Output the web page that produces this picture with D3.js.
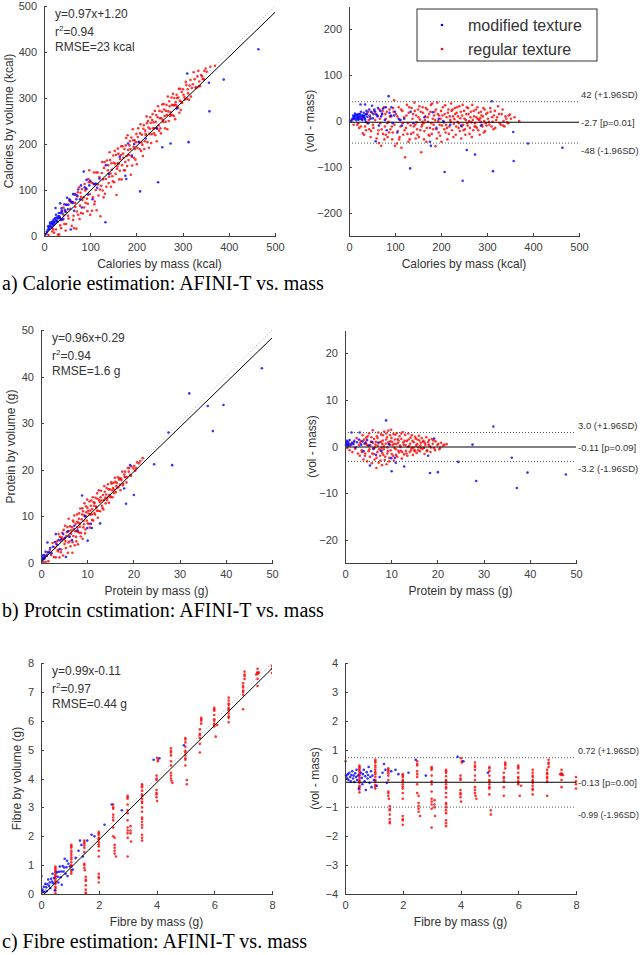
<!DOCTYPE html>
<html lang="en">
<head>
<meta charset="utf-8">
<title>AFINI-T vs. mass</title>
<script src="https://d3js.org/d3.v7.min.js"></script>
<style>
  body { margin: 0; background: #fff; }
  .axis text { font: 11px "Liberation Sans", Arial, sans-serif; fill: #404040; }
  .axis path, .axis line { stroke: #404040; fill: none; shape-rendering: crispEdges; }
  .lab { font-family: "Liberation Sans", Arial, sans-serif; fill: #333; }
  .cap { font-family: "Liberation Serif", "Times New Roman", serif; font-size: 20px; fill: #000; }
</style>
</head>
<body>
<script>
// points are [mass, vol - mass]; volume = mass + difference

// a) calories (kcal)
var calMod = [[5,0],[6,3],[8,5],[9,12],[10,8],[11,4],[12,10],[13,16],[14,12],[15,6],[16,2],[17,14],[18,9],[19,7],
  [20,3],[20,12],[21,15],[22,8],[23,4],[24,15],[25,36],[25,10],[26,20],[27,5],[28,12],[29,2],[30,8],[31,12],[32,18],
  [33,10],[34,6],[35,36],[35,3],[36,14],[37,-2],[38,22],[39,16],[40,9],[42,-5],[44,25],[45,12],[47,5],[48,20],[50,33],
  [52,6],[53,15],[55,25],[57,20],[58,-44],[60,14],[62,10],[63,28],[65,-10],[68,22],[70,10],[72,16],[74,27],[78,2],
  [80,30],[82,-20],[86,54],[88,18],[91,12],[92,30],[95,-5],[98,12],[100,20],[105,-25],[108,5],[112,2],[115,-10],
  [120,5],[134,20],[133,-103],[140,-5],[164,8],[176,-45],[178,-54],[182,19],[190,-15],[195,5],[205,0],[208,-111],
  [220,-8],[244,-10],[247,-130],[256,-63],[274,-73],[287,-10],[310,43],[313,-109],[357,-24],[358,-87],[389,-49],
  [464,-58]];
var calReg = [[2,0],[10,-8],[18,-8],[20,-5],[22,-15],[26,-12],[28,5],[30,-27],[32,10],[33,-30],[35,-12],[37,-20],
  [38,15],[40,-5],[42,20],[43,2],[44,-18],[46,8],[47,-35],[48,-22],[50,18],[52,-8],[53,-15],[55,22],[57,2],[58,15],
  [60,-38],[62,12],[63,-28],[64,-20],[65,-48],[66,25],[67,5],[68,-5],[70,-54],[71,-18],[72,14],[73,22],[74,-28],
  [76,30],[77,-40],[78,-12],[79,15],[80,5],[80,-30],[82,20],[83,-5],[84,-35],[86,-2],[87,-25],[88,25],[89,10],
  [90,-18],[92,10],[93,-12],[94,-40],[95,-25],[96,28],[97,20],[98,45],[99,-8],
  [100,-54],[102,15],[104,-49],[105,10],[106,-22],[108,30],[109,-40],[110,2],[110,-35],[112,-12],[113,25],[114,-58],
  [116,22],[117,-5],[118,-30],[120,8],[121,-20],[122,-79],[124,-15],[125,12],[126,35],[127,-28],[128,-5],[129,-45],
  [130,18],[131,30],[132,-40],[134,-10],[135,-28],[136,28],[138,5],[139,15],[140,-25],[141,-12],[142,40],[143,22],
  [144,-8],[145,-38],[146,12],[147,-3],[148,-18],[149,-30],[150,25],[151,8],[152,-35],[153,32],[154,3],[155,-20],
  [156,20],[157,-68],[158,-12],[159,-8],[160,30],[160,-2],[161,18],[162,-5],[163,-40],[164,-22],[165,2],[166,10],
  [167,28],[168,-45],[169,-15],[170,25],[171,8],[172,-2],[173,-30],[174,15],[175,-32],[176,-15],[177,20],[178,35],
  [179,-5],[180,-28],[181,38],[182,5],[183,-18],[184,-8],[185,12],[186,20],[187,2],[188,-55],[189,25],[190,-18],
  [191,-38],[192,40],[193,15],[194,0],[195,-25],[196,12],[197,-8],[198,-32],[199,5],[200,22],[201,-45],[202,-10],
  [203,12],[204,30],[206,-3],[207,-18],[208,15],[209,34],[210,-25],[211,-8],[212,8],[213,-15],[214,-40],[215,18],
  [216,25],[217,-28],[218,-12],[219,10],[220,2],[221,-2],[222,38],[223,22],[224,-20],[225,25],[226,10],[227,-35],
  [228,-6],[229,4],[230,28],[231,15],[232,-30],[233,-12],[234,18],[235,30],[236,-2],[237,10],[238,-15],[239,-5],
  [240,32],[241,-22],[242,6],[243,20],[244,-38],[245,-12],[246,12],[247,35],[248,-8],[249,-20],[250,22],[251,5],
  [252,-18],[253,-30],[254,2],[255,15],[256,30],[257,-5],[258,-10],[259,28],[260,15],[261,0],[262,-28],[263,-15],
  [264,8],[265,20],[266,-3],[267,-35],[268,35],[269,2],[270,-20],[271,22],[272,10],[273,-12],[274,-5],[275,-12],
  [276,25],[277,8],[278,-15],[279,30],[280,4],[281,-20],[282,18],[283,2],[284,-30],[285,6],[286,-2],[287,20],
  [288,12],[289,-8],[290,-12],[291,10],[292,28],[293,-25],[294,0],[295,25],[296,-22],[297,-5],[298,15],[299,-10],
  [301,18],[302,5],[304,-2],[305,-8],[307,28],[308,20],[310,-12],[311,8],[312,-2],[314,-18],[315,12],[317,22],
  [318,-15],[320,2],[322,8],[324,32],[326,15],[328,-5],[330,-8],[332,15],[334,25],[335,-10],[336,0],[338,-12],
  [340,10],[342,5],[344,-3],[346,-5],[347,12],[350,14],[352,5],[360,8],[370,0]];

// b) protein (g)
var proMod = [[0.2,0.3],[0.3,0.8],[0.4,1.2],[0.5,0.5],[0.6,0.2],[0.7,1.0],[0.8,0.6],[1.0,1.4],[1.2,0.3],[1.4,3.0],
  [1.5,0.8],[1.8,0.5],[2.0,1.2],[2.3,-0.2],[2.6,0.9],[3.0,1.5],[3.2,3.0],[3.5,0.4],[3.8,1.1],[4.0,-1.0],[4.4,0.7],
  [4.8,1.4],[5.2,0.2],[5.4,-4.1],[5.8,1.0],[6.2,-0.5],[6.7,-1.8],[7.2,0.8],[7.9,-0.9],[8.9,5.6],[9.5,0.5],[10.0,-2.5],
  [10.1,-5.3],[10.8,-2.4],[11.0,-3.5],[12.8,-4.3],[18.0,-2.0],[18.4,-5.7],[19.3,1.7],[20.1,-5.5],[24.5,-3.3],
  [27.6,0.4],[28.4,-7.4],[32.1,4.3],[36.1,-2.4],[37.2,-8.9],[39.5,-5.6],[47.8,-6.0]];
var proReg = [[0.5,-0.3],[0.8,0.2],[1.0,-0.8],[1.3,0.5],[1.6,-1.2],[1.9,0.9],[2.2,-0.5],[2.5,1.8],[2.8,-1.5],[3.0,0.3],
  [3.2,-2.0],[3.3,0.8],[3.4,1.2],[3.6,-0.8],[3.7,-1.2],[3.8,2.4],[4.0,-2.8],[4.1,1.5],[4.2,0.6],[4.3,-2.0],[4.4,-1.5],
  [4.5,1.0],[4.6,1.9],[4.7,0.4],[4.8,-3.2],[4.9,2.2],[5.0,0.2],[5.1,-1.0],[5.2,2.8],[5.3,-0.6],[5.4,-2.2],[5.5,0.3],
  [5.6,1.0],[5.7,2.0],[5.8,-3.6],[5.9,-1.5],[6.0,3.5],[6.05,0.8],[6.1,-0.5],[6.2,-1.6],[6.3,1.6],[6.4,-2.8],[6.5,-0.2],
  [6.6,0.4],[6.7,1.0],[6.8,-4.6],[6.85,-2.4],[6.9,2.2],[7.0,-1.2],[7.05,1.8],[7.1,0.2],[7.2,3.0],[7.3,-3.5],[7.4,-0.6],
  [7.5,0.9],[7.6,-2.0],[7.65,-3.0],[7.7,-0.9],[7.8,2.6],[7.85,1.0],[7.9,-0.3],[8.0,-4.0],[8.05,-1.4],[8.1,0.5],
  [8.2,1.3],[8.25,2.4],[8.3,-1.8],[8.4,-0.6],[8.45,0.0],[8.5,3.2],[8.6,-2.9],[8.7,-2.2],[8.8,0.6],[8.9,1.5],[8.95,2.8],
  [9.0,-3.8],[9.1,2.0],[9.15,-1.5],[9.2,-0.2],[9.3,-1.0],[9.35,0.9],[9.4,3.4],[9.55,-3.2],[9.6,-2.4],[9.7,0.4],
  [9.75,2.4],[9.8,1.1],[9.9,-0.8],[10.0,3.6],[10.05,1.8],[10.1,-1.6],[10.2,1.0],[10.3,0.3],[10.4,-2.0],[10.5,2.7],
  [10.6,-3.0],[10.65,0.6],[10.7,-0.3],[10.8,1.5],[10.9,2.5],[11.0,-0.6],[11.05,-1.8],[11.1,0.5],[11.2,2.9],[11.3,-2.2],
  [11.4,1.6],[11.5,0.8],[11.55,-0.9],[11.6,1.3],[11.7,-1.3],[11.8,2.2],[11.9,0.2],[12.0,-0.1],[12.1,-0.9],[12.15,2.8],
  [12.2,1.6],[12.3,-2.6],[12.4,-1.2],[12.5,3.1],[12.6,0.9],[12.7,0.4],[12.8,-1.7],[12.9,1.2],[13.0,2.5],[13.1,0.3],
  [13.2,-0.9],[13.3,-1.5],[13.4,1.2],[13.5,-2.0],[13.6,-0.1],[13.7,2.8],[13.8,1.5],[13.9,0.1],[14.0,-1.2],[14.1,0.6],
  [14.2,1.9],[14.3,-0.8],[14.4,-0.4],[14.5,2.4],[14.6,1.2],[14.7,-1.8],[14.8,-0.2],[14.9,0.9],[15.0,-0.7],[15.1,-1.0],
  [15.2,2.1],[15.3,1.7],[15.4,0.2],[15.5,-1.4],[15.6,0.5],[15.7,1.5],[15.8,-0.8],[15.9,-0.2],[16.0,2.3],[16.1,1.3],
  [16.2,-1.0],[16.3,0.2],[16.4,0.8],[16.5,-0.4],[16.6,1.8],[16.8,-0.5],[16.9,1.0],[17.0,1.2],[17.1,-0.3],[17.2,-1.6],
  [17.3,0.8],[17.4,0.4],[17.6,2.0],[17.7,-1.0],[17.8,-0.8],[18.0,1.0],[18.1,0.4],[18.2,1.4],[18.3,0.1],[18.5,-1.2],
  [18.6,-0.2],[18.8,1.6],[19.0,0.6],[19.1,1.3],[19.3,-0.4],[19.5,-0.8],[19.6,1.1],[20.0,0.3],[20.2,0.6],[20.4,-0.6],
  [20.6,-0.3],[20.8,0.8],[21.2,0.2],[21.5,0.4],[22.0,0.5]];

// c) fibre (g)
var fibMod = [[0.05,0.1],[0.08,0.0],[0.1,0.15],[0.12,-0.05],[0.15,0.2],[0.18,0.05],[0.2,-0.1],[0.22,0.12],[0.25,0.25],
  [0.28,0.0],[0.3,0.1],[0.32,-0.12],[0.35,0.18],[0.38,0.05],[0.4,0.3],[0.42,-0.05],[0.45,0.1],[0.48,-0.35],[0.55,0.2],
  [0.58,0.02],[0.6,-0.2],[0.62,0.15],[0.65,0.3],[0.68,-0.1],[0.7,0.08],[0.72,-0.4],[0.75,0.22],[0.78,0.0],[0.8,0.12],
  [0.82,0.4],[0.85,-0.15],[0.88,0.05],[0.9,0.25],[0.92,-0.3],[0.95,0.1],[1.0,-0.05],[1.1,-0.25],[1.2,0.05],[1.3,0.2],
  [1.35,0.5],[1.4,0.3],[1.45,-0.15],[1.6,0.25],[1.75,0.3],[1.85,0.15],[2.2,0.2],[2.45,0.65],[2.8,0.1],[3.9,0.75],
  [4.1,0.6],[4.95,0.2]];
var fibReg = [[0.02,0.6],[0.03,0.1],[0.05,0.0],
  [0.5,0.45],[0.5,0.4],[0.5,0.35],[0.5,0.3],[0.5,0.25],[0.5,0.18],[0.5,0.12],[0.5,0.1],[0.5,0.02],[0.5,-0.05],
  [0.5,-0.1],[0.5,-0.15],[0.5,-0.25],[0.5,-0.3],[0.5,-0.38],[0.5,-0.48],
  [1.05,0.65],[1.05,0.6],[1.05,0.55],[1.05,0.45],[1.05,0.38],[1.05,0.3],[1.05,0.22],[1.05,0.15],[1.05,0.05],
  [1.05,-0.05],[1.05,-0.1],[1.05,-0.22],[1.05,-0.28],[1.05,-0.35],
  [1.5,0.35],[1.5,0.3],[1.5,0.25],[1.5,0.18],[1.5,0.1],[1.5,-0.05],[1.5,-0.45],[1.5,-0.5],[1.5,-0.6],[1.52,-0.7],
  [1.55,-0.95],[1.55,-1.05],[1.55,-1.1],[1.55,-1.25],[1.55,-1.4],[1.55,-1.5],[1.55,-1.55],
  [2.0,0.15],[2.0,0.1],[2.0,0.05],[2.0,-0.05],[2.0,-0.1],[2.0,-0.2],[2.0,-0.28],[2.0,-0.35],[2.0,-0.5],[2.0,-0.7],
  [2.0,-1.3],[2.0,-1.4],[2.0,-1.45],[2.0,-1.6],
  [2.5,0.6],[2.5,0.5],[2.5,0.45],[2.5,0.25],[2.5,0.15],[2.5,0.05],[2.5,-0.2],[2.5,-0.5],[2.55,-0.6],[2.55,-0.85],
  [2.55,-0.95],[2.55,-1.05],[2.55,-1.15],[2.6,-1.3],
  [3.0,0.4],[3.0,0.35],[3.0,0.3],[3.0,0.1],[3.0,-0.1],[3.0,-0.2],[3.0,-0.45],[3.0,-0.7],[3.0,-0.8],[3.0,-0.9],
  [3.0,-1.05],[3.0,-1.7],[3.1,-0.75],[3.1,-0.9],[3.1,-1.0],[3.12,-1.3],
  [3.5,0.3],[3.5,0.25],[3.5,0.2],[3.5,0.08],[3.5,-0.05],[3.5,-0.1],[3.5,-0.2],[3.5,-0.3],[3.5,-0.35],[3.5,-0.5],
  [3.5,-0.65],[3.5,-0.85],[3.5,-0.9],[3.5,-1.0],[3.5,-1.1],[3.5,-1.2],[3.5,-1.45],[3.5,-1.55],[3.5,-1.65],
  [4.02,0.7],[4.05,0.6],[4.05,0.55],[4.0,0.1],[4.0,0.0],[4.0,-0.05],[4.0,-0.4],[4.0,-0.5],[4.0,-0.55],[4.0,-0.65],
  [4.02,-0.8],
  [4.5,0.55],[4.5,0.45],[4.5,0.4],[4.5,0.3],[4.5,0.1],[4.5,-0.05],[4.5,-0.3],[4.5,-0.4],[4.5,-0.5],[4.52,-0.6],
  [4.55,-0.7],
  [5.0,0.4],[5.0,0.35],[5.0,0.25],[5.0,0.1],[5.0,-0.05],[5.0,-0.1],[5.0,-0.2],[5.0,-0.3],[5.0,-0.35],[5.0,-0.55],
  [5.05,-1.1],[5.05,-1.25],
  [5.55,0.55],[5.55,0.5],[5.55,0.45],[5.55,0.35],[5.5,0.2],[5.5,0.05],[5.5,0.0],[5.5,-0.1],[5.5,-0.3],[5.5,-0.6],
  [6.0,0.45],[6.0,0.4],[6.0,0.35],[6.0,0.2],[6.0,0.05],[6.0,0.0],[6.0,-0.1],[6.0,-0.15],[6.0,-0.2],[6.05,-0.6],
  [6.1,-0.25],
  [6.5,0.3],[6.5,0.2],[6.5,0.1],[6.5,0.05],[6.5,-0.05],[6.5,-0.1],[6.5,-0.15],[6.5,-0.25],[6.5,-0.35],[6.5,-0.4],
  [6.5,-0.55],
  [7.05,0.65],[7.05,0.55],[7.05,0.5],[7.05,0.4],[7.0,0.3],[7.0,0.2],[7.0,0.15],[7.0,0.05],[7.0,0.0],[7.0,-0.1],
  [7.0,-0.6],
  [7.5,0.3],[7.45,0.15],[7.5,0.18],[7.5,0.15],[7.5,0.12],[7.55,0.12],[7.5,-0.05],[7.5,-0.3],
  [8.0,0.05],[8.0,-0.1],[8.0,-0.2],[8.0,-0.35]];

// fits (slope, intercept) and their text
var calFit = [0.97, 1.20], proFit = [0.96, 0.29], fibFit = [0.99, -0.11];
var calFitText = ["y=0.97x+1.20", "0.94", "RMSE=23 kcal"];
var proFitText = ["y=0.96x+0.29", "0.94", "RMSE=1.6 g"];
var fibFitText = ["y=0.99x-0.11", "0.97", "RMSE=0.44 g"];

// limits of agreement: +1.96SD, mean, -1.96SD
var calLoA = [42, -2.7, -48], proLoA = [3.0, -0.11, -3.2], fibLoA = [0.72, -0.13, -0.99];
var calLoAText = ["42 (+1.96SD)", "-2.7 [p=0.01]", "-48 (-1.96SD)"];
var proLoAText = ["3.0 (+1.96SD)", "-0.11 [p=0.09]", "-3.2 (-1.96SD)"];
var fibLoAText = ["0.72 (+1.96SD)", "-0.13 [p=0.00]", "-0.99 (-1.96SD)"];

// ticks
var calTicks = [0, 100, 200, 300, 400, 500], calDiffTicks = [-200, -100, 0, 100, 200];
var proTicks = [0, 10, 20, 30, 40, 50], proDiffTicks = [-20, -10, 0, 10, 20];
var fibTicks = [0, 1, 2, 3, 4, 5, 6, 7, 8], fibXTicks = [0, 2, 4, 6, 8], fibDiffTicks = [-4, -3, -2, -1, 0, 1, 2, 3, 4];

var legendLabels = ["modified texture", "regular texture"];
var colors = ["#0000ff", "#ff0000"];

var rows = [
  {mod: calMod, reg: calReg, max: 500, dMax: 250, xTicks: calTicks, yTicks: calTicks, dTicks: calDiffTicks,
   fit: calFit, fitText: calFitText, loa: calLoA, loaText: calLoAText,
   xLabel: "Calories by mass (kcal)", yLabel: "Calories by volume (kcal)",
   caption: "a) Calorie estimation: AFINI-T vs. mass",
   lx: [44, 275], rx: [349, 579], y: [6, 236], ylx: 9, yrx: 310},
  {mod: proMod, reg: proReg, max: 50, dMax: 25, xTicks: proTicks, yTicks: proTicks, dTicks: proDiffTicks,
   fit: proFit, fitText: proFitText, loa: proLoA, loaText: proLoAText,
   xLabel: "Protein by mass (g)", yLabel: "Protein by volume (g)",
   caption: "b) Protcin cstimation: AFINI-T vs. mass",
   lx: [41, 272], rx: [345, 576], y: [330, 563], ylx: 11, yrx: 312},
  {mod: fibMod, reg: fibReg, max: 8, dMax: 4, xTicks: fibXTicks, yTicks: fibTicks, dTicks: fibDiffTicks,
   fit: fibFit, fitText: fibFitText, loa: fibLoA, loaText: fibLoAText,
   xLabel: "Fibre by mass (g)", yLabel: "Fibre by volume (g)",
   caption: "c) Fibre estimation: AFINI-T vs. mass",
   lx: [41, 272], rx: [345, 576], y: [663, 894], ylx: 17, yrx: 315}
];

var W = 640, H = 955;
var svg = d3.select("body").append("svg")
  .attr("width", W)
  .attr("height", H);

rows.forEach(function(r, i) {
  var x = d3.scaleLinear().domain([0, r.max]).range(r.lx);
  var y = d3.scaleLinear().domain([0, r.max]).range([r.y[1], r.y[0]]);
  var xr = d3.scaleLinear().domain([0, r.max]).range(r.rx);
  var yr = d3.scaleLinear().domain([-r.dMax, r.dMax]).range([r.y[1], r.y[0]]);

  // clip for left scatter
  svg.append("clipPath").attr("id", "clipL" + i)
    .append("rect").attr("x", r.lx[0]).attr("y", r.y[0])
    .attr("width", r.lx[1] - r.lx[0]).attr("height", r.y[1] - r.y[0]);

  // ----- left: volume vs mass -----
  var gl = svg.append("g");
  var gp = gl.append("g").attr("clip-path", "url(#clipL" + i + ")");

  // identity line
  gp.append("line")
    .attr("x1", x(0)).attr("y1", y(0)).attr("x2", x(r.max)).attr("y2", y(r.max))
    .attr("stroke", "#b0b0b0").attr("stroke-width", 1).attr("stroke-dasharray", "1,2");

  [r.reg, r.mod].forEach(function(pts, k) {
    gp.selectAll(null).data(pts).enter().append("circle")
      .attr("cx", function(d) { return x(d[0]); })
      .attr("cy", function(d) { return y(d[0] + d[1]); })
      .attr("r", 1.3)
      .attr("fill", colors[1 - k])
      .attr("fill-opacity", 0.8);
  });

  // fit line
  gp.append("line")
    .attr("x1", x(0)).attr("y1", y(r.fit[1]))
    .attr("x2", x(r.max)).attr("y2", y(r.fit[0] * r.max + r.fit[1]))
    .attr("stroke", "#000").attr("stroke-width", 1);

  gl.append("g").attr("class", "axis")
    .attr("transform", "translate(0," + r.y[1] + ")")
    .call(d3.axisBottom(x).tickValues(r.xTicks).tickSizeInner(-3).tickSizeOuter(0).tickPadding(7));
  gl.append("g").attr("class", "axis")
    .attr("transform", "translate(" + r.lx[0] + ",0)")
    .call(d3.axisLeft(y).tickValues(r.yTicks).tickSizeInner(-3).tickSizeOuter(0).tickPadding(7));

  // fit annotation
  var tx = r.lx[0] + 11;
  gl.append("text").attr("class", "lab").attr("font-size", 12)
    .attr("x", tx).attr("y", r.y[0] + 12).text(r.fitText[0]);
  var t2 = gl.append("text").attr("class", "lab").attr("font-size", 12)
    .attr("x", tx).attr("y", r.y[0] + 30);
  t2.append("tspan").text("r");
  t2.append("tspan").attr("font-size", 8).attr("dy", -5).text("2");
  t2.append("tspan").attr("dy", 5).text("=" + r.fitText[1]);
  gl.append("text").attr("class", "lab").attr("font-size", 12)
    .attr("x", tx).attr("y", r.y[0] + 45).text(r.fitText[2]);

  gl.append("text").attr("class", "lab").attr("font-size", 12)
    .attr("text-anchor", "middle")
    .attr("x", (r.lx[0] + r.lx[1]) / 2).attr("y", r.y[1] + 32)
    .text(r.xLabel);
  gl.append("text").attr("class", "lab").attr("font-size", 12)
    .attr("text-anchor", "middle").attr("dy", "0.35em")
    .attr("transform", "translate(" + r.ylx + "," + (r.y[0] + r.y[1]) / 2 + ") rotate(-90)")
    .text(r.yLabel);

  // ----- right: difference vs mass -----
  var gr = svg.append("g");

  [r.reg, r.mod].forEach(function(pts, k) {
    gr.selectAll(null).data(pts).enter().append("circle")
      .attr("cx", function(d) { return xr(d[0]); })
      .attr("cy", function(d) { return yr(d[1]); })
      .attr("r", 1.3)
      .attr("fill", colors[1 - k])
      .attr("fill-opacity", 0.8);
  });

  r.loa.forEach(function(v, j) {
    gr.append("line")
      .attr("x1", xr(0)).attr("x2", xr(r.max))
      .attr("y1", yr(v)).attr("y2", yr(v))
      .attr("stroke", j === 1 ? "#000" : "#555")
      .attr("stroke-width", 1)
      .attr("stroke-dasharray", j === 1 ? null : "1,2");
    var lbl = gr.append("text").attr("class", "lab").attr("font-size", 9.5)
      .attr("x", xr(r.max) + 2)
      .attr("y", yr(v) + (j === 0 ? -4 : j === 1 ? 3.5 : 11))
      .text(r.loaText[j]);
    // shrink a label that would run past the right edge
    var room = W - 1 - (xr(r.max) + 2);
    var len = lbl.node().getComputedTextLength();
    if (len > room) lbl.attr("font-size", 9.5 * room / len);
  });

  gr.append("g").attr("class", "axis")
    .attr("transform", "translate(0," + r.y[1] + ")")
    .call(d3.axisBottom(xr).tickValues(r.xTicks).tickSizeInner(-3).tickSizeOuter(0).tickPadding(7));
  gr.append("g").attr("class", "axis")
    .attr("transform", "translate(" + r.rx[0] + ",0)")
    .call(d3.axisLeft(yr).tickValues(r.dTicks).tickSizeInner(-3).tickSizeOuter(0).tickPadding(7));

  gr.append("text").attr("class", "lab").attr("font-size", 12)
    .attr("text-anchor", "middle")
    .attr("x", (r.rx[0] + r.rx[1]) / 2).attr("y", r.y[1] + 32)
    .text(r.xLabel);
  gr.append("text").attr("class", "lab").attr("font-size", 12)
    .attr("text-anchor", "middle").attr("dy", "0.35em")
    .attr("transform", "translate(" + r.yrx + "," + (r.y[0] + r.y[1]) / 2 + ") rotate(-90)")
    .text("(vol - mass)");

  svg.append("text").attr("class", "cap")
    .attr("x", 2).attr("y", r.y[1] + 54)
    .text(r.caption);
});

// legend on first right panel
var lg = svg.append("g");
lg.append("rect")
  .attr("x", 417).attr("y", 9).attr("width", 180).attr("height", 52)
  .attr("fill", "#fff").attr("stroke", "#333").attr("stroke-width", 1);
legendLabels.forEach(function(t, k) {
  lg.append("circle").attr("cx", 442).attr("cy", 25 + k * 24).attr("r", 1.3).attr("fill", colors[k]);
  lg.append("text").attr("class", "lab").attr("font-size", 16)
    .attr("x", 468).attr("y", 31 + k * 24).text(t);
});
</script>
</body>
</html>
